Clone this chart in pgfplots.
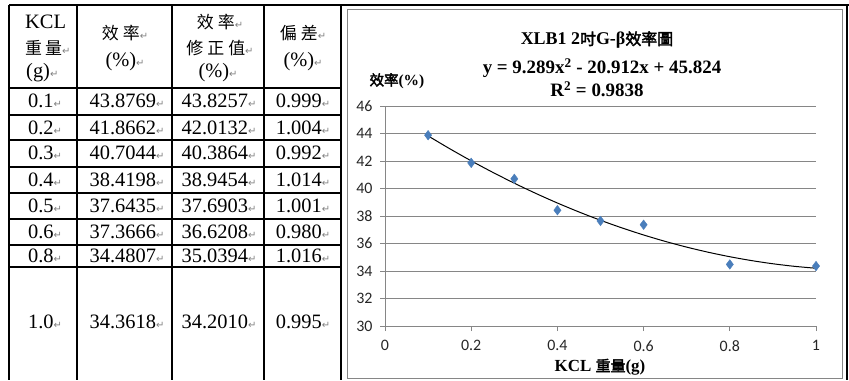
\documentclass[border=0pt]{standalone}
\usepackage{pgfplots}
\pgfplotsset{compat=1.18}
\usepackage{fontspec}
\setmainfont{Liberation Serif}
\newfontfamily\cjk{Noto Sans CJK TC}[AutoFakeBold=2.5]
\newfontfamily\carl{Carlito}
\newfontfamily\dv{DejaVu Sans}
\definecolor{gridc}{RGB}{134,134,134}
\definecolor{mk}{RGB}{74,126,187}
\newcommand\rt{{\dv\fontsize{10}{10}\selectfont\color{gray}↵}}
\newcommand\cj[1]{{\cjk\fontsize{17}{17}\selectfont #1}}
\begin{document}
\begin{tikzpicture}[x=1bp,y=-1bp]
\useasboundingbox (0,0) rectangle (849,380);
% table lines
\begin{scope}[line width=1.3bp, black]
\draw (9,5) -- (849,5);
\foreach \yy in {88,115,140,167,193,219,245,267} \draw (9,\yy) -- (341,\yy);
\foreach \xx in {9,77,172,264,341} \draw (\xx,5) -- (\xx,380);
\draw (847,5) -- (847,380);
\end{scope}
\draw[gridc, line width=0.8bp] (347,9) rectangle (842,378);
% header
\begin{scope}[every node/.style={inner sep=0pt, font=\fontsize{20.5}{20.5}\selectfont}]
\node[anchor=west] at (25,22) {KCL};
\node[anchor=west] at (25,48) {\cj{重\hspace{3bp}量}\rt};
\node[anchor=west] at (26,73) {(g)\rt};
\node at (125,33) {\cj{效\hspace{4bp}率}\rt};
\node at (125,62) {(\%)\rt};
\node at (220,22) {\cj{效\hspace{4bp}率}\rt};
\node at (220,48) {\cj{修\hspace{4bp}正\hspace{4bp}值}\rt};
\node at (218,73) {(\%)\rt};
\node at (303,33) {\cj{偏\hspace{4bp}差}\rt};
\node at (303,62) {(\%)\rt};
\foreach \yy/\a/\b/\c/\d in {101/0.1/43.8769/43.8257/0.999,
  128/0.2/41.8662/42.0132/1.004, 153/0.3/40.7044/40.3864/0.992,
  180/0.4/38.4198/38.9454/1.014, 206/0.5/37.6435/37.6903/1.001,
  232/0.6/37.3666/36.6208/0.980, 256/0.8/34.4807/35.0394/1.016,
  322/1.0/34.3618/34.2010/0.995}{
  \node at (45,\yy) {\a\rt};
  \node at (127,\yy) {\b\rt};
  \node at (219,\yy) {\c\rt};
  \node at (303,\yy) {\d\rt};
}
\end{scope}
% chart texts
\node[font=\bfseries\fontsize{18}{18}\selectfont, inner sep=0pt] at (597,40) {XLB1 2{\cjk\fontsize{16}{16}\selectfont\bfseries 吋}G-β{\cjk\fontsize{16}{16}\selectfont\bfseries 效率圖}};
\node[font=\bfseries\fontsize{19}{19}\selectfont, inner sep=0pt] at (602,68) {y = 9.289x\textsuperscript{2} - 20.912x + 45.824};
\node[font=\bfseries\fontsize{19}{19}\selectfont, inner sep=0pt] at (597,89) {R\textsuperscript{2} = 0.9838};
\node[font=\bfseries\fontsize{15.5}{15.5}\selectfont, inner sep=0pt] at (397,81) {{\cjk\fontsize{14.5}{14.5}\selectfont\bfseries 效率}(\%)};
\node[font=\bfseries\fontsize{17}{17}\selectfont, inner sep=0pt] at (600,367) {KCL {\cjk\fontsize{15}{15}\selectfont\bfseries 重量}(g)};
\begin{axis}[
  at={(385bp,-326bp)}, anchor=south west,
  scale only axis, width=431bp, height=220bp,
  xmin=0, xmax=1, ymin=30, ymax=46,
  xtick={0,0.2,0.4,0.6,0.8,1}, ytick={30,32,...,46},
  xticklabels={0,0.2,0.4,0.6,0.8,1},
  axis x line=bottom, axis y line=left,
  axis line style={-, gridc, line width=0.8bp},
  ymajorgrids, grid style={gridc, line width=0.8bp},
  tick align=outside, major tick length=5bp,
  tick style={gridc, line width=0.8bp},
  ticklabel style={font=\carl\fontsize{16}{16}\selectfont, text=black!85},
  yticklabel style={xshift=-4bp},
  xticklabel style={yshift=-6bp},
  /pgf/number format/assume math mode=true,
  clip=false,
]
\addplot[black, line width=1bp, smooth] coordinates {
(0.1,43.82569)(0.15,42.8962)(0.2,42.01316)(0.25,41.17656)(0.3,40.38641)
(0.35,39.6427)(0.4,38.94544)(0.45,38.29462)(0.5,37.69025)(0.55,37.13232)
(0.6,36.62084)(0.65,36.1558)(0.7,35.73721)(0.75,35.36506)(0.8,35.03936)
(0.85,34.7601)(0.9,34.52729)(0.95,34.34092)(1.0,34.201)};
\addplot[only marks, mark=diamond*, mark size=4.8bp, mark options={fill=mk, draw=mk}] coordinates {
(0.1,43.8769)(0.2,41.8662)(0.3,40.7044)(0.4,38.4198)(0.5,37.6435)(0.6,37.3666)(0.8,34.4807)(1.0,34.3618)};
\end{axis}
\end{tikzpicture}
\end{document}
